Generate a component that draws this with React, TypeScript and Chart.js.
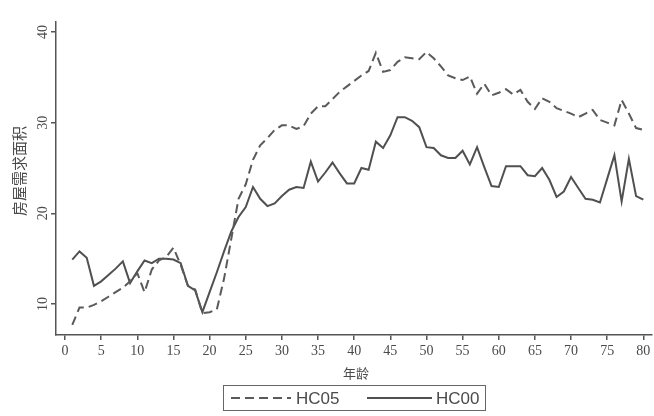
import React, { useEffect, useRef } from "react";
import { Chart, registerables } from "chart.js";

Chart.register(...registerables);

const ages = [
  1, 2, 3, 4, 5, 6, 7, 8, 9, 10, 11, 12, 13, 14, 15, 16, 17, 18, 19, 20,
  21, 22, 23, 24, 25, 26, 27, 28, 29, 30, 31, 32, 33, 34, 35, 36, 37, 38, 39, 40,
  41, 42, 43, 44, 45, 46, 47, 48, 49, 50, 51, 52, 53, 54, 55, 56, 57, 58, 59, 60,
  61, 62, 63, 64, 65, 66, 67, 68, 69, 70, 71, 72, 73, 74, 75, 76, 77, 78, 79, 80,
];

const hc05 = [
  7.7, 9.6, 9.6, 9.9, 10.3, 10.8, 11.3, 11.8, 12.5, 13.4,
  11.3, 13.8, 14.8, 15.2, 16.2, 14.3, 12.0, 11.6, 9.0, 9.1,
  9.4, 12.8, 17.2, 21.6, 23.2, 25.9, 27.5, 28.3, 29.2, 29.7,
  29.7, 29.3, 29.6, 31.0, 31.8, 31.8, 32.6, 33.4, 34.0, 34.6,
  35.2, 35.7, 37.7, 35.6, 35.8, 36.7, 37.2, 37.1, 37.0, 37.8,
  37.1, 36.2, 35.2, 34.9, 34.7, 35.1, 33.2, 34.3, 33.0, 33.3,
  33.7, 33.1, 33.6, 32.3, 31.5, 32.7, 32.3, 31.6, 31.3, 31.0,
  30.6, 31.0, 31.4, 30.3, 30.0, 29.7, 32.5, 31.0, 29.4, 29.2,
];

const hc00 = [
  14.9, 15.8, 15.1, 12.0, 12.5, 13.2, 13.9, 14.7, 12.3, 13.6,
  14.8, 14.5, 15.0, 15.0, 14.9, 14.5, 12.0, 11.5, 9.1, 11.3,
  13.5, 15.8, 18.0, 19.6, 20.7, 22.9, 21.6, 20.8, 21.1, 21.9,
  22.6, 22.9, 22.8, 25.7, 23.5, 24.5, 25.6, 24.4, 23.3, 23.3,
  25.0, 24.8, 27.9, 27.2, 28.6, 30.6, 30.6, 30.2, 29.5, 27.3,
  27.2, 26.4, 26.1, 26.1, 26.9, 25.4, 27.3, 25.1, 23.0, 22.9,
  25.2, 25.2, 25.2, 24.2, 24.1, 25.0, 23.7, 21.8, 22.4, 24.0,
  22.8, 21.6, 21.5, 21.2, 23.8, 26.4, 21.3, 26.0, 21.9, 21.5,
];

const xTicks = [0, 5, 10, 15, 20, 25, 30, 35, 40, 45, 50, 55, 60, 65, 70, 75, 80];
const yTicks = [10, 20, 30, 40];
const seriesLabels = ["HC05", "HC00"];
const xTitle = "年龄";
const yTitle = "房屋需求面积";

const AXIS = "#555555";
const TEXT = "#4a4a4a";
const SERIF = "'Liberation Serif', 'DejaVu Serif', serif";
const CJK = "'Noto Sans CJK SC', sans-serif";
const SANS = "'Liberation Sans', Arial, sans-serif";

const overlayPlugin = {
  id: "overlay",
  afterDraw(chart: any) {
    const ctx = chart.ctx;
    const ys = chart.scales.y;
    const xs = chart.scales.x;
    ctx.save();
    ctx.fillStyle = TEXT;
    // rotated y tick labels
    ctx.font = `14px ${SERIF}`;
    ctx.textAlign = "center";
    ctx.textBaseline = "middle";
    yTicks.forEach((v) => {
      const py = ys.getPixelForValue(v);
      ctx.save();
      ctx.translate(43, py);
      ctx.rotate(-Math.PI / 2);
      ctx.fillText(String(v), 0, 0);
      ctx.restore();
    });
    // y title
    ctx.save();
    ctx.font = `15px ${CJK}`;
    ctx.translate(19, 171);
    ctx.rotate(-Math.PI / 2);
    ctx.fillText(yTitle, 0, 0);
    ctx.restore();
    // x title
    ctx.font = `13px ${CJK}`;
    ctx.fillText(xTitle, (xs.left + xs.right) / 2 + 2, 373);
    // legend box
    const bx = 223, by = 385, bw = 262, bh = 25;
    ctx.strokeStyle = "#666666";
    ctx.lineWidth = 1;
    ctx.strokeRect(bx + 0.5, by + 0.5, bw, bh);
    const ly = by + bh / 2 + 0.5;
    const items = [
      { x0: 231, x1: 291, tx: 296 },
      { x0: 367, x1: 432, tx: 436 },
    ];
    ctx.font = `17px ${SANS}`;
    ctx.textAlign = "left";
    chart.data.datasets.forEach((ds: any, i: number) => {
      const it = items[i];
      ctx.save();
      ctx.strokeStyle = ds.borderColor;
      ctx.lineWidth = ds.borderWidth;
      ctx.setLineDash(ds.borderDash || []);
      ctx.beginPath();
      ctx.moveTo(it.x0, ly);
      ctx.lineTo(it.x1, ly);
      ctx.stroke();
      ctx.restore();
      ctx.fillStyle = TEXT;
      ctx.fillText(ds.label, it.tx, ly + 1);
    });
    ctx.restore();
  },
};

export default function App() {
  const ref = useRef<HTMLCanvasElement | null>(null);
  useEffect(() => {
    document.body.style.margin = "0";
    document.body.style.background = "#ffffff";
    const canvas = ref.current;
    if (!canvas) return;
    const chart = new Chart(canvas, {
      type: "line",
      data: {
        datasets: [
          {
            label: seriesLabels[0],
            data: ages.map((a, i) => ({ x: a, y: hc05[i] })),
            borderColor: "#5a5a5a",
            borderWidth: 2,
            borderDash: [9, 5],
            pointRadius: 0,
            tension: 0,
            fill: false,
          },
          {
            label: seriesLabels[1],
            data: ages.map((a, i) => ({ x: a, y: hc00[i] })),
            borderColor: "#505050",
            borderWidth: 2,
            pointRadius: 0,
            tension: 0,
            fill: false,
          },
        ],
      },
      options: {
        responsive: false,
        animation: false,
        layout: { padding: { top: 22, right: 2, left: 0, bottom: 0 } },
        plugins: {
          legend: { display: false },
          tooltip: { enabled: false },
        },
        scales: {
          x: {
            type: "linear",
            min: -1.25,
            max: 81.2,
            afterBuildTicks: (scale: any) => {
              scale.ticks = xTicks.map((v) => ({ value: v }));
            },
            afterFit: (scale: any) => {
              scale.height = 81;
            },
            grid: {
              display: true,
              drawOnChartArea: false,
              drawTicks: true,
              tickLength: 5,
              color: AXIS,
              lineWidth: 1.5,
            },
            border: { display: true, color: AXIS, width: 1.5 },
            ticks: {
              autoSkip: false,
              maxRotation: 0,
              padding: 3,
              color: TEXT,
              font: { family: SERIF, size: 14 },
              callback: (v: any) => String(v),
            },
          },
          y: {
            type: "linear",
            min: 6.58,
            max: 41.1,
            afterBuildTicks: (scale: any) => {
              scale.ticks = yTicks.map((v) => ({ value: v }));
            },
            afterFit: (scale: any) => {
              scale.width = 56;
            },
            grid: {
              display: true,
              drawOnChartArea: false,
              drawTicks: true,
              tickLength: 5,
              color: AXIS,
              lineWidth: 1.5,
            },
            border: { display: true, color: AXIS, width: 1.5 },
            ticks: { color: "rgba(0,0,0,0)", padding: 2, font: { size: 14 } },
          },
        },
      },
      plugins: [overlayPlugin],
    });
    return () => chart.destroy();
  }, []);
  return (
    <canvas
      ref={ref}
      width={654}
      height={416}
      style={{ display: "block", position: "absolute", left: 0, top: 0 }}
    />
  );
}
